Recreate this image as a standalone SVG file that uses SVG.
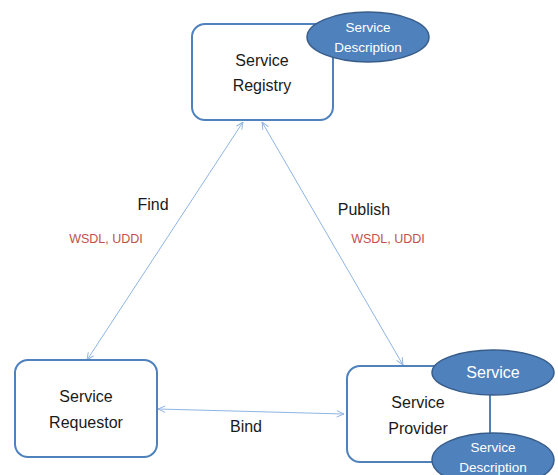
<svg xmlns="http://www.w3.org/2000/svg" width="558" height="475" viewBox="0 0 558 475">
<style>
.box{fill:#fff;stroke:#4f81bd;stroke-width:2}
.ell{fill:#4f81bd;stroke:#385d8a;stroke-width:1.5}
.t{font-family:"Liberation Sans",Arial,sans-serif;font-size:16px;fill:#1a1a1a;text-anchor:middle}
.w{font-family:"Liberation Sans",Arial,sans-serif;fill:#fff;text-anchor:middle}
.r{font-family:"Liberation Sans",Arial,sans-serif;font-size:12.5px;fill:#c0504d;text-anchor:middle}
.c{stroke:#8eb4e3;stroke-width:1;fill:none;marker-start:url(#a);marker-end:url(#a)}
</style>
<defs>
<marker id="a" viewBox="0 0 10 10" refX="10" refY="5" markerWidth="8" markerHeight="8" markerUnits="userSpaceOnUse" orient="auto-start-reverse">
<path d="M1,1 L10,5 L1,9" fill="none" stroke="#8eb4e3" stroke-width="1.2"/>
</marker>
</defs>
<g id="connectors">
<line class="c" x1="243" y1="122" x2="87" y2="360"/>
<line class="c" x1="262" y1="122" x2="403" y2="365"/>
<line class="c" x1="158" y1="409" x2="344" y2="414"/>
<line x1="488" y1="395" x2="488" y2="434" stroke="#4f81bd" stroke-width="2"/>
<text class="t" x="153" y="210">Find</text>
<text class="t" x="364" y="215">Publish</text>
<text class="r" x="106" y="243">WSDL, UDDI</text>
<text class="r" x="388" y="243">WSDL, UDDI</text>
<text class="t" x="246" y="432">Bind</text>
</g>
<g id="registry">
<rect class="box" x="192" y="24" width="141" height="96" rx="13"/>
<text class="t" x="262" y="66">Service</text>
<text class="t" x="262" y="91">Registry</text>
</g>
<g id="registry-description">
<ellipse class="ell" cx="368" cy="37" rx="61" ry="25"/>
<text class="w" x="368" y="32" font-size="13.5">Service</text>
<text class="w" x="368" y="52" font-size="13.5">Description</text>
</g>
<g id="requestor">
<rect class="box" x="15" y="360" width="142" height="97" rx="13"/>
<text class="t" x="86" y="402">Service</text>
<text class="t" x="86" y="428">Requestor</text>
</g>
<g id="provider">
<rect class="box" x="347" y="366" width="143" height="96" rx="13"/>
<text class="t" x="418" y="408">Service</text>
<text class="t" x="418" y="434">Provider</text>
</g>
<g id="service">
<ellipse class="ell" cx="493" cy="372.5" rx="61" ry="22.5"/>
<text class="w" x="493" y="378" font-size="16">Service</text>
</g>
<g id="provider-description">
<ellipse class="ell" cx="493" cy="460" rx="61" ry="27"/>
<text class="w" x="493" y="452" font-size="13.5">Service</text>
<text class="w" x="493" y="472" font-size="13.5">Description</text>
</g>
</svg>
